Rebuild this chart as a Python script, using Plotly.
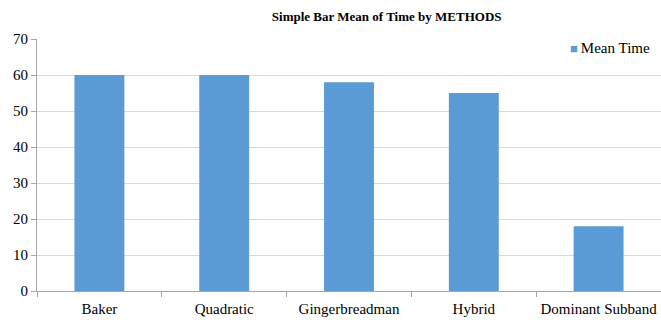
import plotly.graph_objects as go

methods = ["Baker", "Quadratic", "Gingerbreadman", "Hybrid", "Dominant Subband"]
mean_time = [60, 60, 58, 55, 18]
y_ticks = [0, 10, 20, 30, 40, 50, 60, 70]
series_name = "Mean Time"
bar_color = "#5B9BD5"

serif = "Liberation Serif"

fig = go.Figure()
fig.add_trace(go.Bar(
    x=methods,
    y=mean_time,
    name=series_name,
    marker=dict(color=bar_color, line=dict(width=0)),
    showlegend=False,
))

# legend key: small square followed closely by the series name
fig.add_annotation(
    text=f"<span style='color:{bar_color}; font-size:13px'>■</span>\u2009{series_name}",
    xref="paper", yref="paper",
    x=0.985, y=0.965,
    xanchor="right", yanchor="middle",
    showarrow=False,
    font=dict(family=serif, size=15, color="#000000"),
)

fig.update_layout(
    width=661,
    height=320,
    margin=dict(l=37, r=0, t=39, b=29, autoexpand=False),
    paper_bgcolor="white",
    plot_bgcolor="white",
    bargap=0.6,
    font=dict(family=serif, size=15, color="#000000"),
    title=dict(
        text="<b>Simple Bar Mean of Time by METHODS</b>",
        font=dict(family=serif, size=13, color="#000000"),
        x=0.585,
        xanchor="center",
        y=0.948,
        yanchor="middle",
    ),
    showlegend=False,
)

fig.update_xaxes(
    type="category",
    showline=True,
    linecolor="#A6A6A6",
    linewidth=1,
    ticks="outside",
    tickson="boundaries",
    ticklen=5,
    tickcolor="#A6A6A6",
    showgrid=False,
    tickangle=0,
    automargin=False,
    ticklabelstandoff=4,
    tickfont=dict(family=serif, size=15),
)

fig.update_yaxes(
    range=[0, 70],
    tickvals=y_ticks,
    showline=True,
    linecolor="#A6A6A6",
    linewidth=1,
    ticks="outside",
    ticklen=5,
    tickcolor="#A6A6A6",
    showgrid=True,
    gridcolor="#D9D9D9",
    gridwidth=1,
    zeroline=False,
    automargin=False,
    tickfont=dict(family=serif, size=15),
)

fig.write_html("out.html")
